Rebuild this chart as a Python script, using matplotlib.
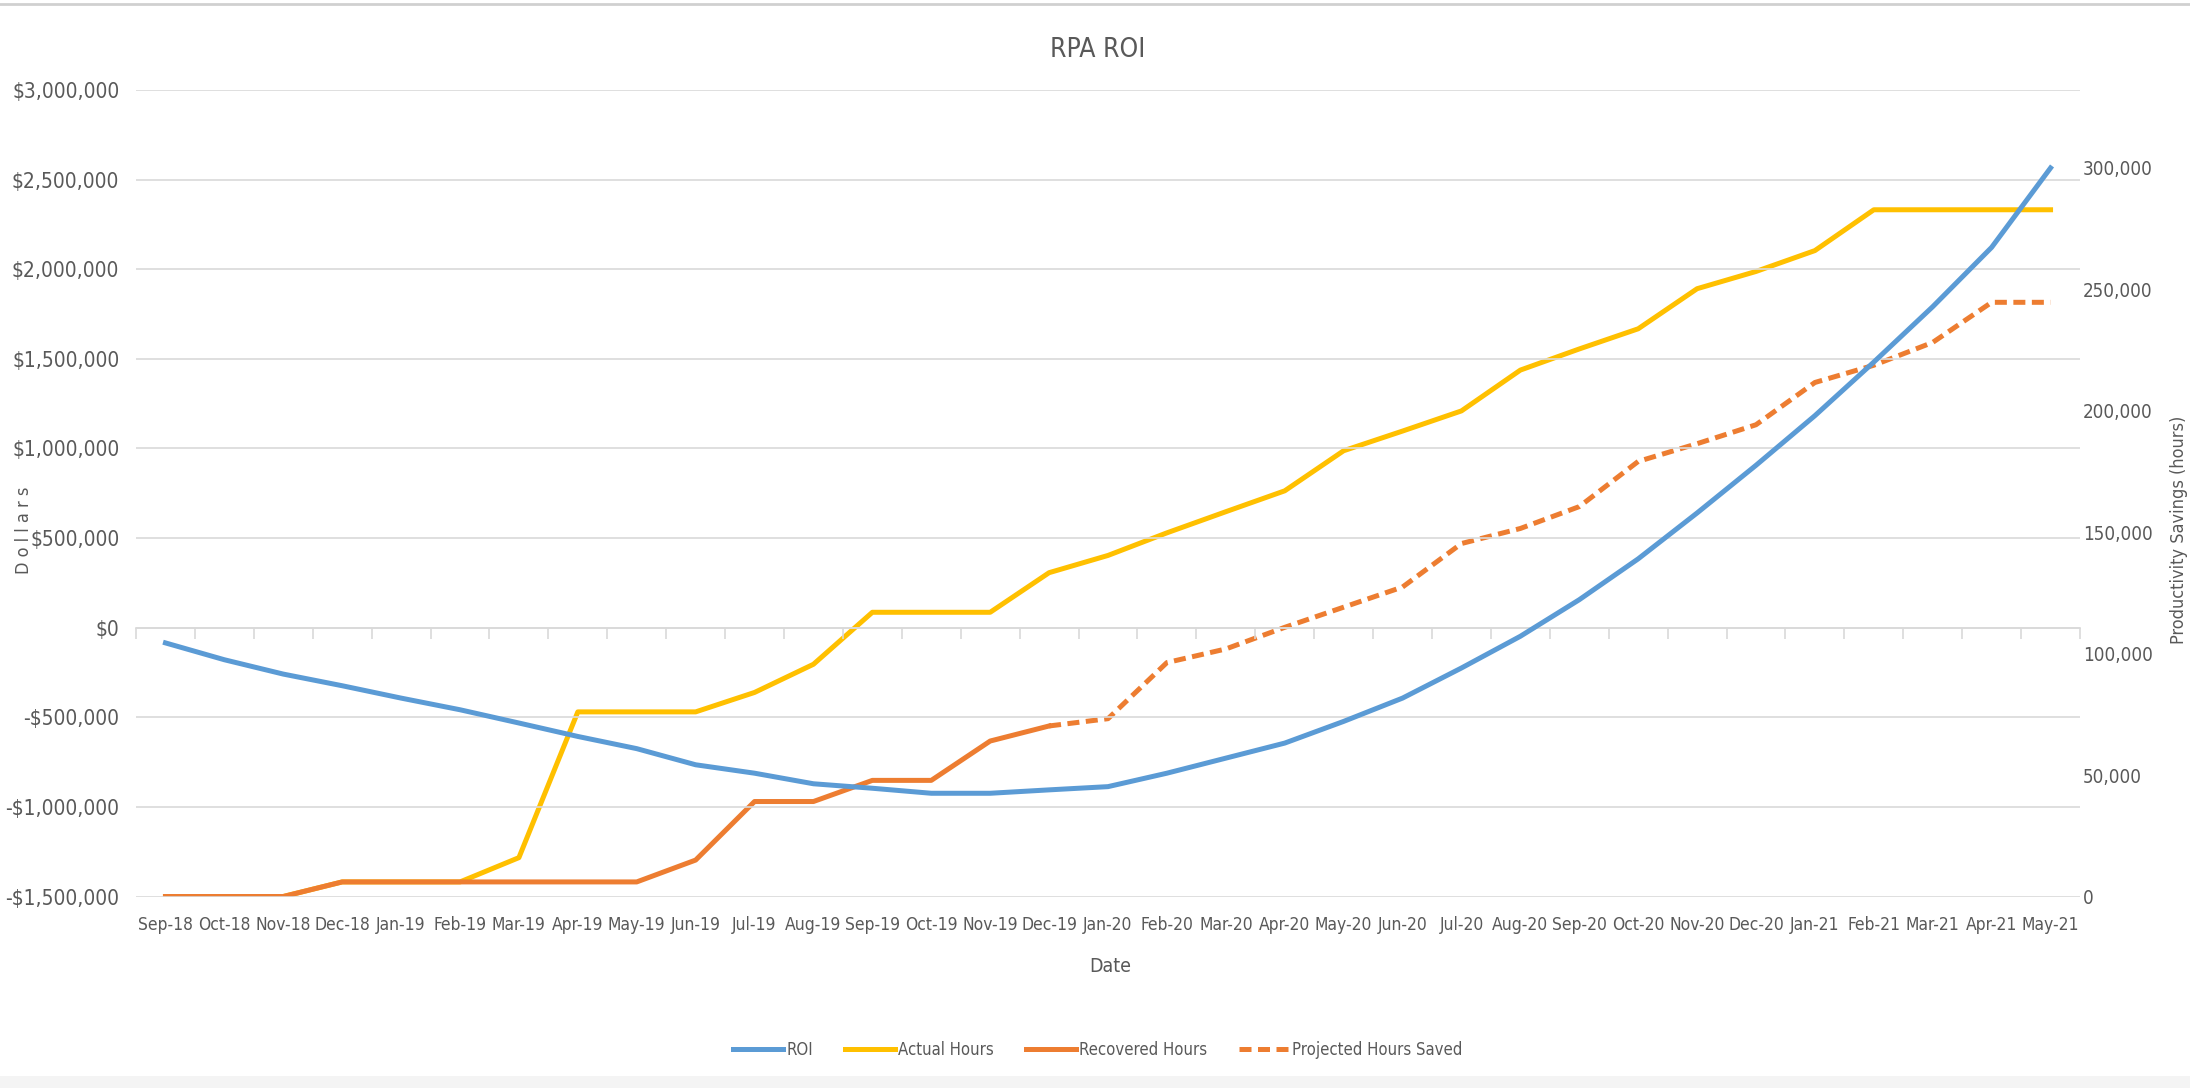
import numpy as np
import matplotlib
matplotlib.use("Agg")
from matplotlib import pyplot as plt
from matplotlib.lines import Line2D
from matplotlib.patches import Rectangle
from matplotlib.ticker import FuncFormatter

plt.rcParams["font.family"] = ["DejaVu Sans"]
plt.rcParams["font.stretch"] = "condensed"

# Data
months = ["Sep-18", "Oct-18", "Nov-18", "Dec-18", "Jan-19", "Feb-19", "Mar-19", "Apr-19",
          "May-19", "Jun-19", "Jul-19", "Aug-19", "Sep-19", "Oct-19", "Nov-19", "Dec-19",
          "Jan-20", "Feb-20", "Mar-20", "Apr-20", "May-20", "Jun-20", "Jul-20", "Aug-20",
          "Sep-20", "Oct-20", "Nov-20", "Dec-20", "Jan-21", "Feb-21", "Mar-21", "Apr-21",
          "May-21"]
roi = [-85000, -179000, -259000, -324000, -393000, -458000, -532000, -607000,
       -675000, -765000, -812000, -871000, -896000, -924000, -924000, -905000,
       -887000, -812000, -728000, -644000, -523000, -393000, -225000, -48000,
       156000, 384000, 640000, 906000, 1183000, 1482000, 1791000, 2122000, 2565000]
actual_hours = [0, 0, 0, 6000, 6000, 6000, 16000, 76000, 76000, 76000, 84000, 95600,
                117000, 117000, 117000, 133300, 140400, 149700, 158400, 167000, 183500,
                191600, 199900, 216700, 225400, 233700, 250200, 257300, 265900, 282700,
                282700, 282700, 282700]
recovered_hours = [0, 0, 0, 6000, 6000, 6000, 6000, 6000, 6000, 15000, 39100, 39100,
                   47800, 47800, 64000, 70200] + [np.nan] * 17
projected_hours = [np.nan] * 15 + [70200, 73200, 96300, 101900, 110800, 119100, 127400,
                                   145300, 151500, 160500, 179100, 186400, 194200,
                                   211600, 218700, 228100, 244600, 244600]

BLUE = "#5B9BD5"
GOLD = "#FFC000"
ORANGE = "#ED7D31"
TXT = "#595959"
GRID = "#D9D9D9"

x = np.arange(len(months))

fig = plt.figure(figsize=(21.9, 10.88), dpi=100)
ax = fig.add_axes([136 / 2190, 1 - 896.5 / 1088, (2080 - 136) / 2190, (896.5 - 90) / 1088])
ax2 = ax.twinx()

# page decorations
fig.add_artist(Line2D([0, 1], [1 - 4 / 1088] * 2, color="#D0D0D0", lw=2))
fig.add_artist(Rectangle((0, 0), 1, 12 / 1088, color="#F4F4F4", lw=0))

ax.plot(x, roi, color=BLUE, lw=3.6, label="ROI", zorder=5)
ax2.plot(x, actual_hours, color=GOLD, lw=3.6, label="Actual Hours")
ax2.plot(x, recovered_hours, color=ORANGE, lw=3.6, label="Recovered Hours")
ax2.plot(x, projected_hours, color=ORANGE, lw=3.6, dashes=(2.4, 1.3),
         label="Projected Hours Saved")

ax.set_zorder(ax2.get_zorder() + 1)
ax.patch.set_visible(False)

ax.set_xlim(-0.5, len(months) - 0.5)
ax.set_ylim(-1500000, 3000000)
ax.set_yticks(np.arange(-1500000, 3000001, 500000))
ax.yaxis.set_major_formatter(FuncFormatter(lambda v, p: f"-${abs(v):,.0f}" if v < 0 else f"${v:,.0f}"))
ax.grid(axis="y", color=GRID, lw=1.2)
ax.set_axisbelow(True)
ax.set_xticks(x)
ax.set_xticklabels(months)
ax.tick_params(axis="x", length=0, pad=14, labelsize=12.5, labelcolor=TXT)
ax.tick_params(axis="y", length=0, pad=12, labelsize=15, labelcolor=TXT)

ax2.set_ylim(0, 332000)
ax2.set_yticks(np.arange(0, 300001, 50000))
ax2.yaxis.set_major_formatter(FuncFormatter(lambda v, p: f"{v:,.0f}"))
ax2.tick_params(axis="y", length=0, pad=2, labelsize=13.5, labelcolor=TXT)

for a in (ax, ax2):
    for s in a.spines.values():
        s.set_visible(False)

# category axis crossing at $0 with tick marks between categories
sec = ax.secondary_xaxis(1 / 3)
sec.set_xticks(np.arange(0, len(months) + 1) - 0.5)
sec.tick_params(axis="x", length=8, width=1.2, color=GRID, labelbottom=False)
sec.spines["bottom"].set_color(GRID)
sec.spines["bottom"].set_linewidth(1.2)

ax.set_ylabel("D o l l a r s", fontsize=13, color=TXT)
ax.yaxis.set_label_coords(-(136 - 33) / 1944, (896.5 - 530) / 806.5)
ax2.set_ylabel("Productivity Savings (hours)", fontsize=13, color=TXT)
ax2.yaxis.set_label_coords((2170 - 136) / 1944, (896.5 - 530) / 806.5)

fig.text(1110 / 2190, 1 - 966 / 1088, "Date", ha="center", va="center", fontsize=14, color=TXT)
fig.text(1098 / 2190, 1 - 50 / 1088, "RPA ROI", ha="center", va="center", fontsize=19, color=TXT)

handles = ax.get_lines() + ax2.get_lines()
fig.legend(handles, [h.get_label() for h in handles], loc="center",
           bbox_to_anchor=(1098 / 2190, 1 - 1050 / 1088), ncol=4, frameon=False,
           fontsize=12, labelcolor=TXT, handlelength=3.0, columnspacing=1.9,
           handletextpad=0.2)

fig.savefig("out.png", dpi=100)
